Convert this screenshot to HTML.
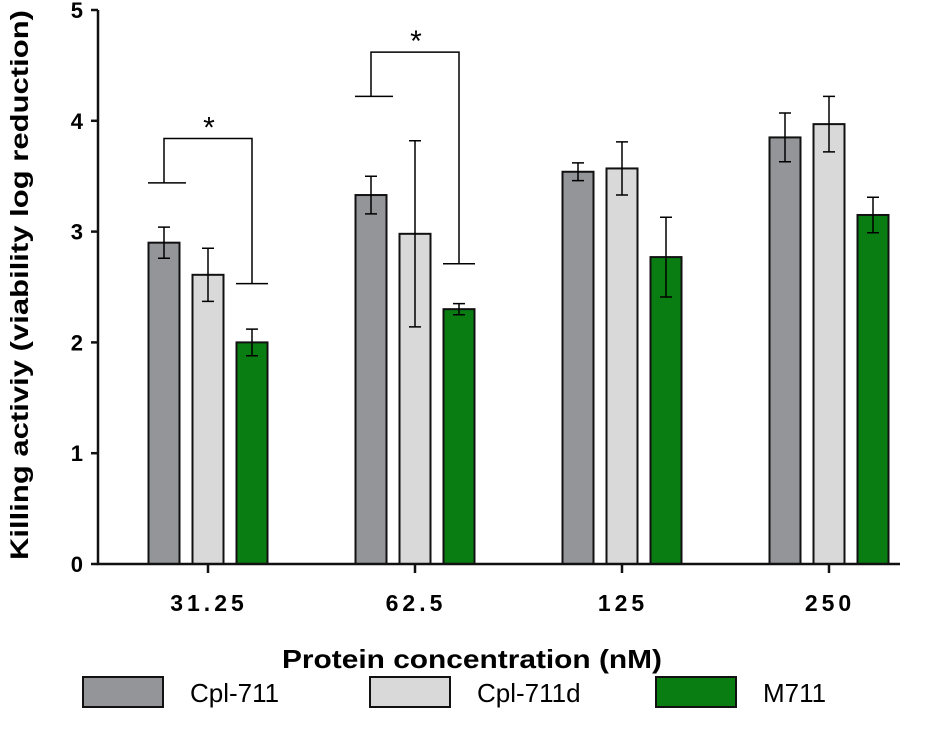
<!DOCTYPE html>
<html><head><meta charset="utf-8"><style>
body{margin:0;background:#fff;}
svg text{font-family:"Liberation Sans",sans-serif;}
</style></head><body>
<svg id="chart" width="937" height="740" xmlns="http://www.w3.org/2000/svg">
<g id="marks"></g>
</svg>
<script>
const categories=["31.25","62.5","125","250"];
const seriesNames=["Cpl-711","Cpl-711d","M711"];
const cpl711=[2.90,3.33,3.54,3.85];
const cpl711Err=[0.14,0.17,0.08,0.22];
const cpl711d=[2.61,2.98,3.57,3.97];
const cpl711dErr=[0.24,0.84,0.24,0.25];
const m711=[2.00,2.30,2.77,3.15];
const m711Err=[0.12,0.05,0.36,0.16];
const yTicks=[0,1,2,3,4,5];

const svg=document.getElementById('marks');
const NS="http://www.w3.org/2000/svg";
const y0=564,yTop=10,yMax=5;
const y=v=>y0-(v/yMax)*(y0-yTop);
const groupX=i=>208+i*207;
const barW=31, barStep=44;
const colors=["#939598","#d9d9d9","#0a7d12"];
const series=[cpl711,cpl711d,m711], errs=[cpl711Err,cpl711dErr,m711Err];
function el(tag,attrs,txt){const e=document.createElementNS(NS,tag);for(const k in attrs)e.setAttribute(k,attrs[k]);if(txt!=null)e.textContent=txt;svg.appendChild(e);return e;}
const barX=(i,s)=>groupX(i)+(s-1)*barStep-barW/2;

series.forEach((vals,s)=>vals.forEach((v,i)=>{
 const r=el('rect',{x:barX(i,s),y:y(v),width:barW,height:y0-y(v),fill:colors[s],stroke:'#111','stroke-width':2});
 
 
 const cx=barX(i,s)+barW/2,e=errs[s][i];
 const g=el('path',{d:`M${cx} ${y(v+e)}V${y(v-e)}M${cx-6} ${y(v+e)}H${cx+6}M${cx-6} ${y(v-e)}H${cx+6}`,stroke:'#000','stroke-width':1.5,fill:'none'});
 
 
}));

const ax=el('path',{d:`M98 ${yTop}V${y0}H900`,stroke:'#111','stroke-width':2.5,fill:'none'});


yTicks.forEach(t=>{
 const tk=el('line',{x1:91,x2:98,y1:y(t),y2:y(t),stroke:'#111','stroke-width':2.5});
 
 
 const lb=el('text',{x:83,y:y(t)+8,'text-anchor':'end','font-size':22,'font-weight':'bold'},t);
 
 
});
categories.forEach((c,i)=>{
 const tk=el('line',{x1:groupX(i),x2:groupX(i),y1:y0,y2:y0+9,stroke:'#111','stroke-width':2.5});
 
 
 const lb=el('text',{x:groupX(i)+1,y:611,'text-anchor':'middle','font-size':23,'font-weight':'bold','letter-spacing':'4'},c);
 
 
});
const xt=el('text',{x:282,y:668,'font-size':26,'font-weight':'bold',textLength:380,lengthAdjust:'spacingAndGlyphs'},'Protein concentration (nM)');


const yt=el('text',{x:-560,y:0,'font-size':25,'font-weight':'bold',textLength:550,lengthAdjust:'spacingAndGlyphs',transform:'translate(28,0) rotate(-90)'},'Killing activiy (viability log reduction)');



function bracket(i,yl,yr,ytop){
 const lx=barX(i,0)+barW/2, rx=barX(i,2)+barW/2;
 const p=el('path',{d:`M${lx-16} ${y(yl)}H${lx+22}M${lx} ${y(yl)}V${y(ytop)}H${rx}V${y(yr)}M${rx-16} ${y(yr)}H${rx+16}`,stroke:'#000','stroke-width':1.5,fill:'none'});
 
 
 const s=el('text',{x:(lx+rx)/2+1,y:y(ytop)-1,'text-anchor':'middle','font-size':30},'*');
 
 
}
bracket(0,3.44,2.53,3.84);
bracket(1,4.22,2.71,4.62);

const legX=[83,370,656];
seriesNames.forEach((n,s)=>{
 const r=el('rect',{x:legX[s],y:677,width:80,height:30,fill:colors[s],stroke:'#111','stroke-width':2});
 
 
 const t=el('text',{x:legX[s]+107,y:702,'font-size':26},n);
 
 
});
</script>
</body></html>
